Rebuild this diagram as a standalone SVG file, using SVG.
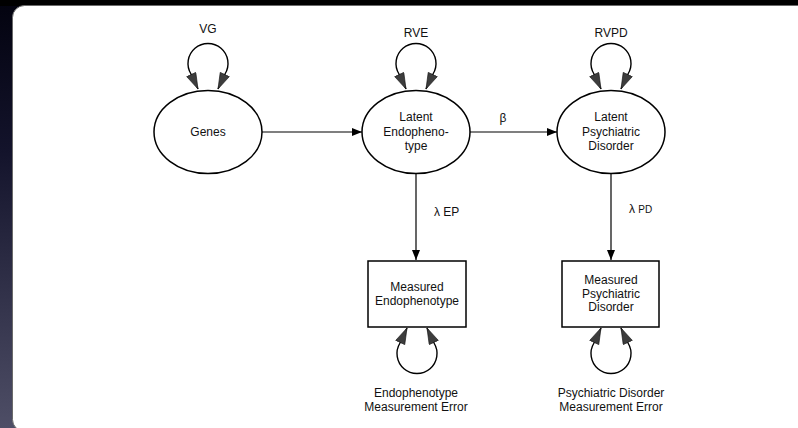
<svg xmlns="http://www.w3.org/2000/svg" width="798" height="428" viewBox="0 0 798 428">
  <defs>
    <linearGradient id="bg" x1="0" y1="0" x2="0" y2="1">
      <stop offset="0" stop-color="#03030f"/>
      <stop offset="0.35" stop-color="#13132b"/>
      <stop offset="1" stop-color="#4e4e66"/>
    </linearGradient>
    <!-- small black arrowhead for path connectors -->
    <marker id="arrow" markerUnits="userSpaceOnUse" markerWidth="10" markerHeight="8" refX="10" refY="4" orient="auto">
      <path d="M0,0 L10,4 L0,8 z" fill="#000"/>
    </marker>
    <!-- larger grey arrowhead for variance loops -->
    <marker id="loopHead" markerUnits="userSpaceOnUse" markerWidth="18" markerHeight="12" refX="16.5" refY="5.5" orient="auto-start-reverse">
      <path d="M0.5,0.5 L16.5,5.5 L0.5,10.5 z" fill="#3d3d3d" stroke="#111" stroke-width="0.6"/>
    </marker>
  </defs>
  <style>
    .lbl { font-family: "Liberation Sans", Arial, Helvetica, sans-serif; font-size: 12px; fill: #111; text-anchor: middle; }
    .left { text-anchor: start; }
    .shape { fill: #fff; stroke: #000; stroke-width: 1.5; }
    .edge { fill: none; stroke: #000; stroke-width: 1.2; }
    .loop { fill: none; stroke: #000; stroke-width: 1.4; }
  </style>

  <!-- backdrop and panel -->
  <rect x="0" y="0" width="798" height="428" fill="url(#bg)"/>
  <rect x="0" y="0" width="798" height="6" fill="#000"/>
  <rect x="12.5" y="5.5" width="800" height="426" rx="12" ry="12" fill="#fff" stroke="#6a6a6a" stroke-width="1"/>

  <!-- connectors -->
  <g id="connectors">
    <line class="edge" x1="262" y1="132" x2="362" y2="132" marker-end="url(#arrow)"/>
    <line class="edge" x1="470" y1="132" x2="557" y2="132" marker-end="url(#arrow)"/>
    <line class="edge" x1="416" y1="173" x2="416" y2="260" marker-end="url(#arrow)"/>
    <line class="edge" x1="611" y1="173" x2="611" y2="260" marker-end="url(#arrow)"/>

    <!-- variance loops -->
    <path class="loop" d="M198,89 L191,74 A20,20 0 1 1 225,74 L218,89" marker-start="url(#loopHead)" marker-end="url(#loopHead)"/>
    <path class="loop" d="M406,89 L399,74 A20,20 0 1 1 433,74 L426,89" marker-start="url(#loopHead)" marker-end="url(#loopHead)"/>
    <path class="loop" d="M601,89 L594,74 A20,20 0 1 1 628,74 L621,89" marker-start="url(#loopHead)" marker-end="url(#loopHead)"/>
    <path class="loop" d="M407,328 L400,343 A20,20 0 1 0 434,343 L427,328" marker-start="url(#loopHead)" marker-end="url(#loopHead)"/>
    <path class="loop" d="M601,328 L594,343 A20,20 0 1 0 628,343 L621,328" marker-start="url(#loopHead)" marker-end="url(#loopHead)"/>

    <text class="lbl" x="208" y="33">VG</text>
    <text class="lbl" x="416" y="37">RVE</text>
    <text class="lbl" x="611" y="37">RVPD</text>
    <text class="lbl" x="503" y="122">β</text>
    <text class="lbl left" x="434" y="216">λ EP</text>
    <text class="lbl left" x="629" y="213">λ <tspan font-size="10">PD</tspan></text>
    <text class="lbl" x="416" y="397">Endophenotype</text>
    <text class="lbl" x="416" y="411">Measurement Error</text>
    <text class="lbl" x="611" y="397">Psychiatric Disorder</text>
    <text class="lbl" x="611" y="411">Measurement Error</text>
  </g>

  <!-- nodes -->
  <g id="genes">
    <ellipse class="shape" cx="208" cy="132" rx="54" ry="41.5"/>
    <text class="lbl" x="208" y="136">Genes</text>
  </g>
  <g id="latent-endophenotype">
    <ellipse class="shape" cx="416" cy="132" rx="54" ry="41.5"/>
    <text class="lbl" x="416" y="121">Latent</text>
    <text class="lbl" x="416" y="136">Endopheno-</text>
    <text class="lbl" x="416" y="150">type</text>
  </g>
  <g id="latent-psychiatric-disorder">
    <ellipse class="shape" cx="611" cy="132" rx="54" ry="41.5"/>
    <text class="lbl" x="611" y="121">Latent</text>
    <text class="lbl" x="611" y="136">Psychiatric</text>
    <text class="lbl" x="611" y="150">Disorder</text>
  </g>
  <g id="measured-endophenotype">
    <rect class="shape" x="368" y="261" width="98" height="66"/>
    <text class="lbl" x="417" y="291">Measured</text>
    <text class="lbl" x="417" y="305">Endophenotype</text>
  </g>
  <g id="measured-psychiatric-disorder">
    <rect class="shape" x="562" y="261" width="97" height="66"/>
    <text class="lbl" x="611" y="284">Measured</text>
    <text class="lbl" x="611" y="298">Psychiatric</text>
    <text class="lbl" x="611" y="311">Disorder</text>
  </g>
</svg>
